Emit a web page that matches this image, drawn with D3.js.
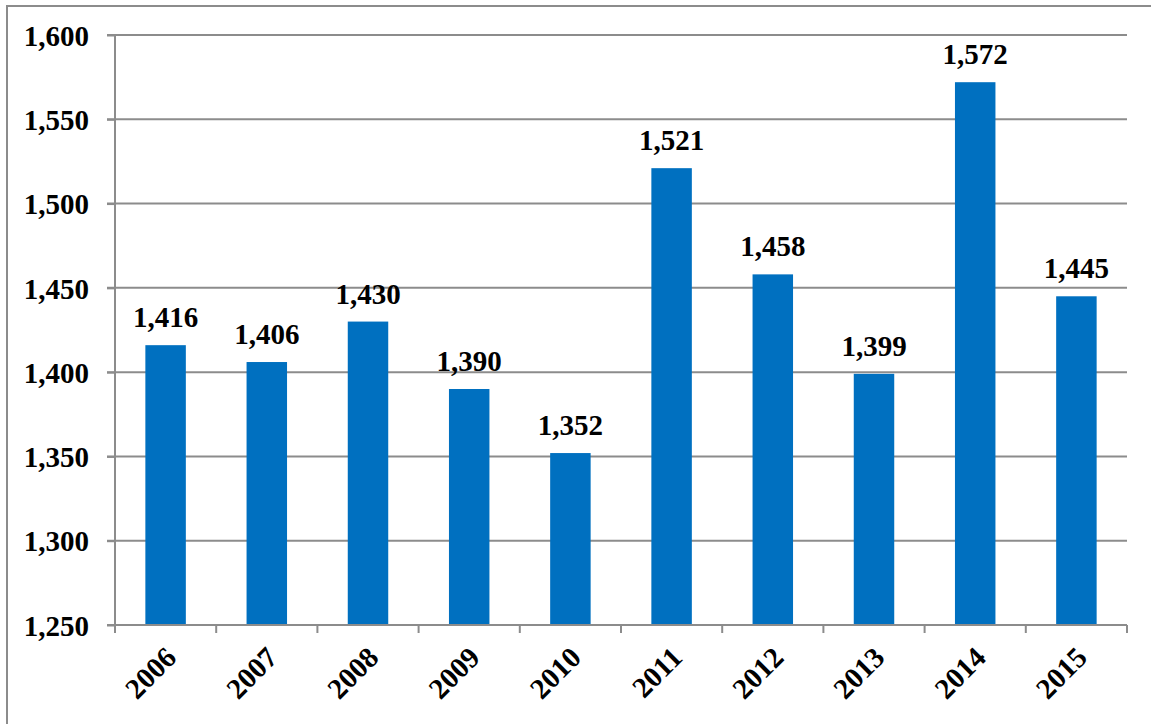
<!DOCTYPE html>
<html><head><meta charset="utf-8">
<script src="https://cdn.jsdelivr.net/npm/d3@7"></script>
<style>body{margin:0;background:#fff}svg{display:block}
text{font-family:"Liberation Serif","Times New Roman",serif;font-weight:bold;font-size:29px;fill:#000}</style>
</head><body>
<svg id="c" width="1151" height="724"></svg>
<script>
const categories = ["2006","2007","2008","2009","2010","2011","2012","2013","2014","2015"];
const values = [1416,1406,1430,1390,1352,1521,1458,1399,1572,1445];
const yTicks = [1250,1300,1350,1400,1450,1500,1550,1600];

(function(){
const svg = d3.select("#c");
const pLeft=115,pRight=1127,pTop=35,pBottom=625;

svg.append("rect").attr("x",7).attr("y",6).attr("width",1160).attr("height",730)
  .attr("fill","none").attr("stroke","#8c8c8c").attr("stroke-width",2);

const x = d3.scaleBand().domain(categories).range([pLeft,pRight]).paddingInner(0.6).paddingOuter(0.3);
const xb = d3.scaleBand().domain(categories).range([pLeft,pRight]);
const y = d3.scaleLinear().domain([1250,1600]).range([pBottom,pTop]);

svg.append("g").selectAll("line").data(yTicks.filter(t=>t>1250)).join("line")
  .attr("x1",pLeft-8).attr("x2",pRight).attr("y1",d=>y(d)).attr("y2",d=>y(d))
  .attr("stroke","#8c8c8c").attr("stroke-width",2);

const ya = svg.append("g").attr("transform",`translate(${pLeft},0)`)
  .call(d3.axisLeft(y).tickValues(yTicks).tickSize(8).tickPadding(18).tickFormat(d3.format(",")));
ya.attr("font-family",null).attr("font-size",null);
ya.select(".domain").attr("stroke","#8c8c8c").attr("stroke-width",2).attr("d",`M-8,${pTop}H0V${pBottom}H-8`);
ya.selectAll(".tick line").attr("stroke","#8c8c8c").attr("stroke-width",2);
ya.selectAll(".tick text").attr("fill","#000").attr("dy","0.35em");

svg.append("g").selectAll("rect").data(values).join("rect")
  .attr("x",(d,i)=>x(categories[i])).attr("width",x.bandwidth())
  .attr("y",d=>y(d)).attr("height",d=>pBottom-y(d)).attr("fill","#0070C0");

const xa = svg.append("g").attr("transform",`translate(0,${pBottom})`);
xa.append("line").attr("x1",pLeft).attr("x2",pRight).attr("y1",0).attr("y2",0).attr("stroke","#8c8c8c").attr("stroke-width",2);
const edges = categories.map(c=>xb(c)).concat([pRight]);
xa.selectAll("line.t").data(edges).join("line").attr("class","t")
  .attr("x1",d=>d).attr("x2",d=>d).attr("y1",0).attr("y2",8).attr("stroke","#8c8c8c").attr("stroke-width",2);
xa.selectAll("text").data(categories).join("text")
  .attr("transform",d=>`translate(${xb(d)+xb.bandwidth()/2-2},${20}) rotate(-45)`)
  .attr("text-anchor","end").attr("dy","0.7em")
  .text(d=>d);

svg.append("g").selectAll("text").data(values).join("text")
  .attr("x",(d,i)=>xb(categories[i])+xb.bandwidth()/2)
  .attr("y",d=>y(d)-18)
  .attr("text-anchor","middle")
  .text(d=>d3.format(",")(d));
})();
</script>
</body></html>
